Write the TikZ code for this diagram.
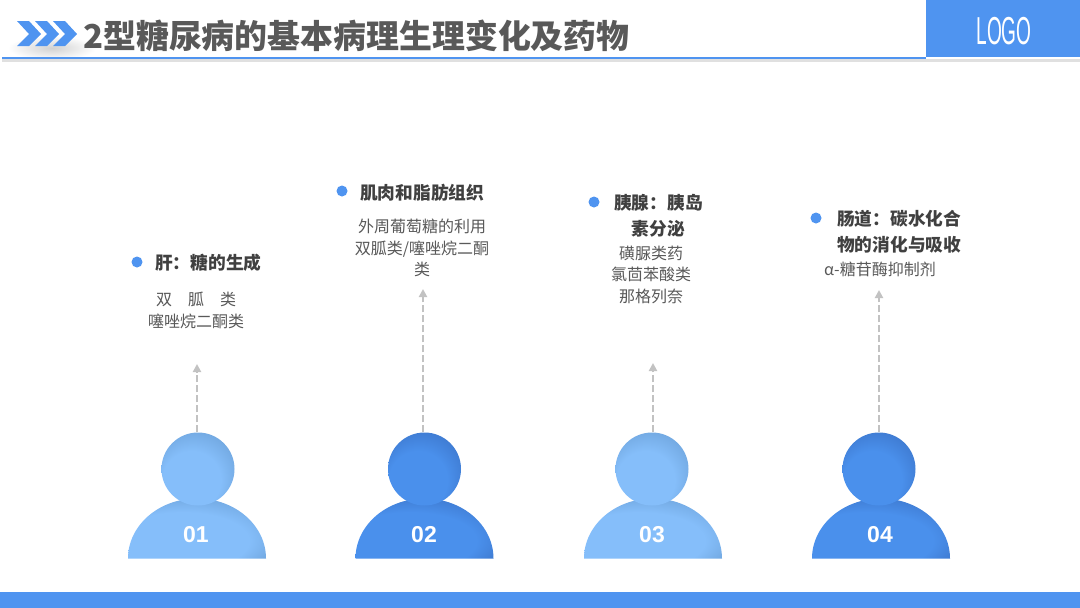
\documentclass[tikz,border=0pt]{standalone}
\usepackage{fontspec}
\setmainfont{Noto Sans CJK SC}
\newfontfamily\numfont{Liberation Sans}
\usepackage{xcolor}
\usetikzlibrary{arrows.meta, positioning}
\definecolor{brandblue}{HTML}{4F94F0}
\definecolor{headtext}{HTML}{404040}
\definecolor{bodytext}{HTML}{595959}
\definecolor{lightmid}{HTML}{85BEFA}
\definecolor{lightedge}{HTML}{6A9FD6}
\definecolor{darkmid}{HTML}{4A90EC}
\definecolor{darkedge}{HTML}{3A72C6}
\pgfdeclareradialshading{headlightfill}{\pgfpoint{-8bp}{-14bp}}{color(0bp)=(lightmid); color(20bp)=(lightmid); color(36bp)=(lightedge); color(45bp)=(lightedge)}
\pgfdeclareradialshading{headdarkfill}{\pgfpoint{-8bp}{-14bp}}{color(0bp)=(darkmid); color(20bp)=(darkmid); color(36bp)=(darkedge); color(45bp)=(darkedge)}
\pgfdeclareradialshading{bodylightfill}{\pgfpoint{-10bp}{-20bp}}{color(0bp)=(lightmid); color(24bp)=(lightmid); color(38bp)=(lightedge); color(50bp)=(lightedge)}
\pgfdeclareradialshading{bodydarkfill}{\pgfpoint{-10bp}{-20bp}}{color(0bp)=(darkmid); color(24bp)=(darkmid); color(38bp)=(darkedge); color(50bp)=(darkedge)}

\begin{document}
\begin{tikzpicture}[
  x=1pt, y=-1pt,
  chevron/.style={fill=brandblue},
  headlight/.style={circle, inner sep=0pt, minimum size=73pt, shading=headlightfill},
  headdark/.style={circle, inner sep=0pt, minimum size=73pt, shading=headdarkfill},
  number/.style={text=white, font=\numfont\fontsize{23}{23}\selectfont\bfseries},
  bullet/.style={circle, fill=brandblue, inner sep=0pt, minimum size=11pt},
  heading/.style={inner sep=0pt, text=headtext, align=left,
    font=\fontsize{17.7}{26}\selectfont\bfseries},
  detail/.style={inner sep=0pt, text=bodytext, align=center,
    font=\fontsize{16}{21.5}\selectfont},
  arr/.style={-{Triangle[length=8pt, width=8pt]}, line width=2.5pt, draw=black!24,
    dash pattern=on 7pt off 3pt}
]
\useasboundingbox (0,0) rectangle (1080,608);
\fill[white] (0,0) rectangle (1080,608);

% top bar
\shade[inner color=black!18, outer color=white] (8,36) rectangle (96,60);
\fill[black!12] (2,58.5) rectangle (1080,61.5);
\fill[brandblue] (2,57) rectangle (926,58.5);
\fill[brandblue] (926,0) rectangle (1080,57);
\fill[chevron] (17,21) -- (29,21) -- (41,34) -- (29,46) -- (17,46) -- (29,34) -- cycle;
\fill[chevron] (35,21) -- (47,21) -- (59,34) -- (47,46) -- (35,46) -- (47,34) -- cycle;
\fill[chevron] (53,21) -- (65,21) -- (77,34) -- (65,46) -- (53,46) -- (65,34) -- cycle;
\node[anchor=west, inner sep=0pt, text=bodytext, font=\fontsize{32.9}{32.9}\selectfont\bfseries] (title) at (83,36) {2型糖尿病的基本病理生理变化及药物};
\node[text=white, xscale=0.49, font=\numfont\fontsize{39}{39}\selectfont, inner sep=0pt] (logo) at (1004,31) {LOGO};

% bottom bar
\fill[brandblue] (0,592) rectangle (1080,608);

% persons
\shade[shading=bodylightfill] (128,558.5) arc[start angle=180, end angle=360, x radius=69, y radius=60] -- cycle;
\node[headlight] (head1) at (198,469) {};
\node[number] (num1) at (196,535) {01};
\shade[shading=bodydarkfill] (355.5,558.5) arc[start angle=180, end angle=360, x radius=69, y radius=60] -- cycle;
\node[headdark] (head2) at (424.5,469) {};
\node[number] (num2) at (424,535) {02};
\shade[shading=bodylightfill] (584,558.5) arc[start angle=180, end angle=360, x radius=69, y radius=60] -- cycle;
\node[headlight] (head3) at (652,469) {};
\node[number] (num3) at (652,535) {03};
\shade[shading=bodydarkfill] (812,558.5) arc[start angle=180, end angle=360, x radius=69, y radius=60] -- cycle;
\node[headdark] (head4) at (879,469) {};
\node[number] (num4) at (880,535) {04};

% arrows
\coordinate (tip1) at (197,364);
\coordinate (tip2) at (423,289);
\coordinate (tip3) at (653,363);
\coordinate (tip4) at (879,290);
\draw[arr] (tip1 |- head1.north) -- (tip1);
\draw[arr] (tip2 |- head2.north) -- (tip2);
\draw[arr] (tip3 |- head3.north) -- (tip3);
\draw[arr] (tip4 |- head4.north) -- (tip4);

% texts
\node[bullet] (dot1) at (137,262) {};
\node[heading, anchor=west] (organ1) at (155,263) {肝：糖的生成};
\node[detail] (drug1) at (196,310.5) {双\quad 胍\quad 类\\噻唑烷二酮类};
\node[bullet] (dot2) at (342,191) {};
\node[heading, anchor=west] (organ2) at (360,192.5) {肌肉和脂肪组织};
\node[detail] (drug2) at (422,248) {外周葡萄糖的利用\\双胍类/噻唑烷二酮\\类};
\node[bullet] (dot3) at (594,202) {};
\node[heading, anchor=west, align=center] (organ3) at (614,216) {胰腺：胰岛\\素分泌};
\node[detail] (drug3) at (651,274.5) {磺脲类药\\氯茴苯酸类\\那格列奈};
\node[bullet] (dot4) at (816,218) {};
\node[heading, anchor=west] (organ4) at (837,232) {肠道：碳水化合\\物的消化与吸收};
\node[detail] (drug4) at (880,269.5) {α-糖苷酶抑制剂};
\end{tikzpicture}
\end{document}
